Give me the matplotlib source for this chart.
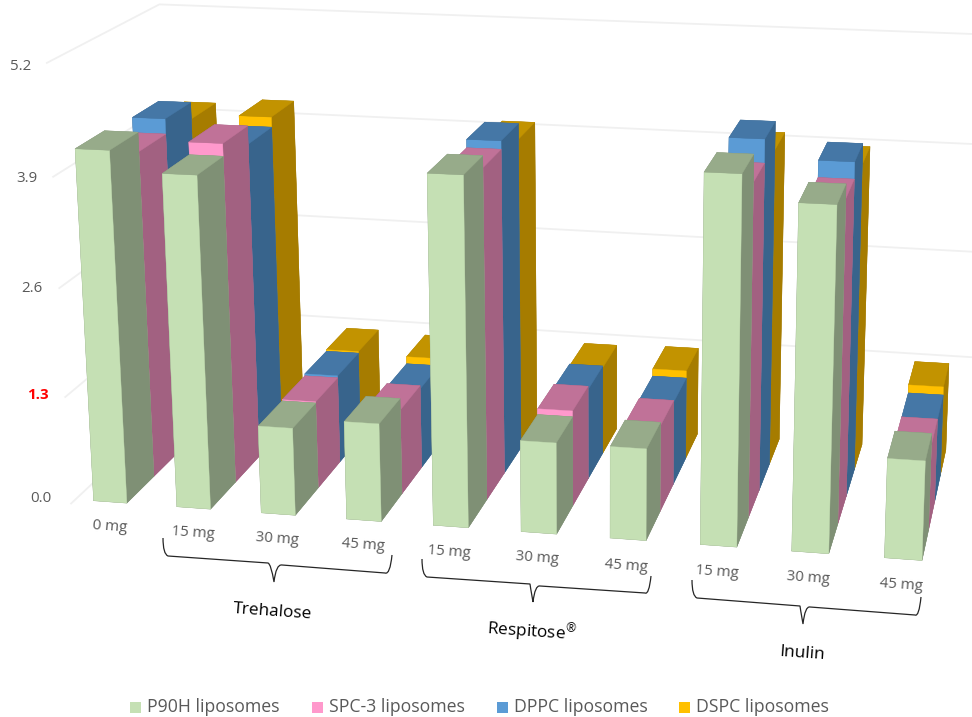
import matplotlib
matplotlib.use("Agg")
import matplotlib.pyplot as plt
from matplotlib.path import Path
from matplotlib.patches import PathPatch, Rectangle

series_names = ["P90H liposomes", "SPC-3 liposomes", "DPPC liposomes", "DSPC liposomes"]
dose_labels = ["0 mg", "15 mg", "30 mg", "45 mg", "15 mg", "30 mg", "45 mg", "15 mg", "30 mg", "45 mg"]
group_names = ["Trehalose", r"Respitose$^{\mathregular{®}}$", "Inulin"]
tick_values = [0.0, 1.3, 2.6, 3.9, 5.2]

p90h = [4.20, 3.96, 1.05, 1.17, 4.10, 1.08, 1.08, 4.25, 3.96, 1.15]
spc3 = [3.97, 4.11, 1.065, 1.03, 3.96, 1.15, 1.04, 3.93, 3.79, 1.01]
dppc = [4.155, 3.89, 1.09, 0.99, 4.06, 1.11, 1.02, 4.21, 3.99, 1.00]
dspc = [3.95, 4.015, 1.11, 1.08, 3.87, 1.09, 1.11, 3.87, 3.74, 1.10]

front_colors = ["#C5E0B4", "#FF99CC", "#5B9BD5", "#FFC000"]
top_colors = ["#97AB8A", "#C07298", "#4577A6", "#C29300"]
side_colors = ["#7F9075", "#A26181", "#38648C", "#A67C00"]

W, H = 972, 717
plt.rcParams["font.family"] = ["Open Sans", "DejaVu Sans"]
fig = plt.figure(figsize=(W / 100, H / 100), dpi=100)

# 3D plot box, placed in pixel terms
S, cx, cy = 1023, 514, 278
ax = fig.add_axes([(cx - S / 2) / W, (H - cy - S / 2) / H, S / W, S / H], projection="3d")
ax.computed_zorder = False
ax.set_axis_off()
ax.patch.set_alpha(0)

XMIN, XMAX = -0.6, 9.6
YMIN, YMAX = -0.15, 4.15
ZMAX = tick_values[-1]
ax.set_xlim(XMIN, XMAX)
ax.set_ylim(YMIN, YMAX)
ax.set_zlim(0, ZMAX)
ax.set_box_aspect(((XMAX - XMIN) * 85, (YMAX - YMIN) * 77, ZMAX * 83.5), zoom=1.0)
ax.set_proj_type("persp", focal_length=0.5)
ax.view_init(elev=15.6, azim=-77.6, roll=0.43)

# wall gridlines: left wall front to back, then along the back wall
WALL_X = -0.42
WALL_FRONT, WALL_BACK, WALL_BACK_RIGHT = -0.15, 3.85, 3.6
WALL_END = 11.5
for t in tick_values:
    xs, ys = [WALL_X, WALL_X, WALL_END], [WALL_FRONT, WALL_BACK, WALL_BACK_RIGHT]
    if t == 0:
        xs, ys = xs[:2], ys[:2]
    ax.plot(xs, ys, [t] * len(xs), color="#F0F0F0", lw=1.3, zorder=1)

BAR_W = 0.40
all_rows = [p90h, spc3, dppc, dspc]
z = 10
for row in [3, 2, 1, 0]:
    for i, val in enumerate(all_rows[row]):
        # face order: bottom, top, front, back, left, right
        faces = [side_colors[row], top_colors[row], front_colors[row],
                 side_colors[row], side_colors[row], side_colors[row]]
        ax.bar3d(i - BAR_W / 2, row, 0, BAR_W, 1.0, val, color=faces, shade=False,
                 edgecolor=faces, linewidth=0.3, zorder=z)
        z += 1

# annotation layer in pixel coordinates
ov = fig.add_axes([0, 0, 1, 1])
ov.set_xlim(0, W)
ov.set_ylim(H, 0)
ov.set_axis_off()
ov.patch.set_alpha(0)

GRAY = "#595959"
tick_px = [(41, 499), (38, 395), (32, 288), (27, 179), (21, 66)]
for t, (px, py) in zip(tick_values, tick_px):
    red = t == 1.3
    ov.text(px, py, f"{t:.1f}", ha="center", va="center", fontsize=10.8,
            color="#FF0000" if red else GRAY, fontweight="bold" if red else "normal")

dose_px = [(110, 527), (193, 533), (277, 539), (363, 545), (449, 552),
           (537, 558), (626, 566), (717, 572), (808, 578), (901, 585)]
for lab, (px, py) in zip(dose_labels, dose_px):
    ov.text(px, py, lab, ha="center", va="center", fontsize=10.8, color=GRAY,
            rotation=-4, rotation_mode="anchor")

group_px = [(273, 612), (532, 632), (802, 654)]
for lab, (px, py) in zip(group_names, group_px):
    ov.text(px, py, lab, ha="center", va="center", fontsize=12.4, color="black",
            rotation=-4, rotation_mode="anchor")


def brace(a, b, c, tip, e, f, g):
    C = Path.CURVE3
    verts = [a, (a[0], b[1] - 2), b, c, (tip[0] - 3, c[1] + 1), tip,
             (tip[0] + 2, e[1] - 1), e, f, (g[0] - 2, f[1] + 2), g]
    codes = [Path.MOVETO, C, C, Path.LINETO, C, C, C, C, Path.LINETO, C, C]
    ov.add_patch(PathPatch(Path(verts, codes), fc="none", ec="#262626", lw=0.9))


for pts in [
    ((163, 538), (168, 556), (268, 563), (274, 582), (282, 565), (385, 573), (392, 555)),
    ((422, 559), (427, 577), (530, 584), (533, 602), (540, 586), (645, 593), (651, 576)),
    ((692, 580), (697, 598), (800, 606), (803, 624), (810, 607), (915, 615), (921, 597)),
]:
    brace(*pts)

# legend row
legend_x = [130, 312, 497, 679]
for name, col, lx in zip(series_names, front_colors, legend_x):
    ov.add_patch(Rectangle((lx, 702), 11, 11, fc=col, ec="none"))
    ov.text(lx + 17, 707, name, ha="left", va="center", fontsize=12.7, color=GRAY)

fig.savefig("out.png", dpi=100)
